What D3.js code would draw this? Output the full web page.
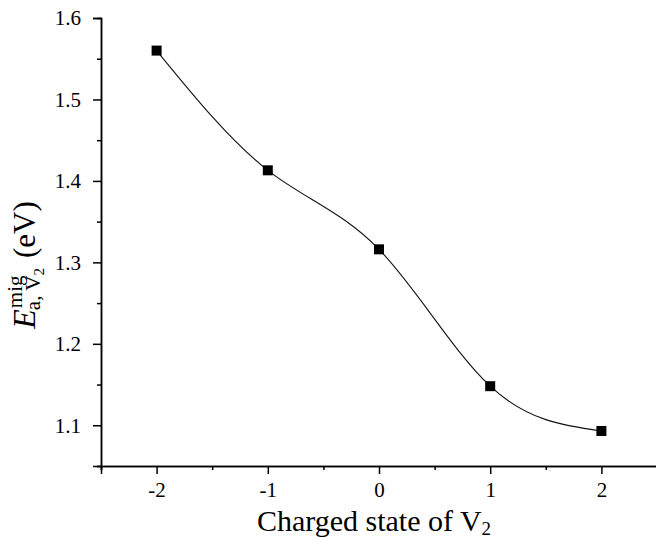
<!DOCTYPE html>
<html>
<head>
<meta charset="utf-8">
<script src="https://cdn.jsdelivr.net/npm/d3@7"></script>
<style>
html,body{margin:0;padding:0;background:#fff;}
svg{display:block;}
</style>
</head>
<body>
<svg id="chart" width="656" height="539"></svg>
<script>
// Data
const charges = [-2, -1, 0, 1, 2];
const energies = [1.560, 1.413, 1.316, 1.148, 1.093];
const xMajorTicks = [-2, -1, 0, 1, 2];
const xMinorTicks = [-2.5, -1.5, -0.5, 0.5, 1.5];
const yMajorTicks = [1.1, 1.2, 1.3, 1.4, 1.5, 1.6];
const yMinorTicks = [1.05, 1.15, 1.25, 1.35, 1.45, 1.55];

const svg = d3.select("#chart");
const FONT = "Liberation Serif";

const x = d3.scaleLinear().domain([-2.5, 2.5]).range([101, 657]);
const y = d3.scaleLinear().domain([1.05, 1.6]).range([466, 18]);

// Axes
const yAxisMinor = d3.axisLeft(y).tickValues(yMinorTicks).tickSize(4).tickFormat("");
const yAxisMajor = d3.axisLeft(y).tickValues(yMajorTicks).tickSize(8).tickPadding(12)
  .tickFormat(d => d3.format(".1f")(d));
const xAxisMinor = d3.axisBottom(x).tickValues(xMinorTicks).tickSize(4).tickFormat("");
const xAxisMajor = d3.axisBottom(x).tickValues(xMajorTicks).tickSize(8).tickPadding(8)
  .tickFormat(d => String(d));

function styleAxis(g) {
  g.attr("font-family", FONT).attr("font-size", 21);
  g.selectAll("path.domain").attr("stroke", "#000").attr("stroke-width", 1.5);
  g.selectAll(".tick line").attr("stroke", "#000").attr("stroke-width", 1.5);
  g.selectAll(".tick text").attr("fill", "#000").style("font-family", FONT).style("font-size", "21px");
}

svg.append("g").attr("transform", `translate(${x(-2.5)},0)`).call(yAxisMinor).call(styleAxis);
svg.append("g").attr("transform", `translate(${x(-2.5)},0)`).call(yAxisMajor).call(styleAxis);
svg.append("g").attr("transform", `translate(0,${y(1.05)})`).call(xAxisMinor).call(styleAxis);
svg.append("g").attr("transform", `translate(0,${y(1.05)})`).call(xAxisMajor).call(styleAxis);

// Curve
const pts = charges.map((c, i) => [c, energies[i]]);
const line = d3.line().x(d => x(d[0])).y(d => y(d[1])).curve(d3.curveNatural);
svg.append("path").datum(pts).attr("d", line)
  .attr("fill", "none").attr("stroke", "#111").attr("stroke-width", 1.1);

// Markers
const S = 10;
svg.append("g").selectAll("rect").data(pts).join("rect")
  .attr("x", d => x(d[0]) - S / 2).attr("y", d => y(d[1]) - S / 2)
  .attr("width", S).attr("height", S).attr("fill", "#000");

// X label
const xl = svg.append("text").attr("x", 374).attr("y", 531)
  .attr("text-anchor", "middle").style("font-family", FONT).style("font-size", "30px").attr("fill", "#000");
xl.append("tspan").text("Charged state of V");
xl.append("tspan").style("font-size", "19px").attr("dy", 4).text("2");

// Y label (rotated)
const yg = svg.append("g");
function piece(txt, size, italic, px, py) {
  return yg.append("text").attr("x", px).attr("y", py)
    .style("font-family", FONT).style("font-size", size + "px")
    .style("font-style", italic ? "italic" : "normal").attr("fill", "#000").text(txt);
}
const w = t => t.node().getComputedTextLength();
let cx = 0;
const tE = piece("E", 32, true, cx, 0);
cx += w(tE) + 1;
const tSup = piece("mig", 21, false, cx, -13);
const tSub = piece("a, V", 21, false, cx - 2, 5);
const tSub2 = piece("2", 15, false, cx - 2 + w(tSub), 9);
cx += Math.max(w(tSup), w(tSub) + w(tSub2)) + 8;
const tU = piece("(eV)", 31, false, cx, 0);
const total = cx + w(tU);
yg.attr("transform", `translate(35,${265 + total / 2}) rotate(-90)`);
</script>
</body>
</html>
